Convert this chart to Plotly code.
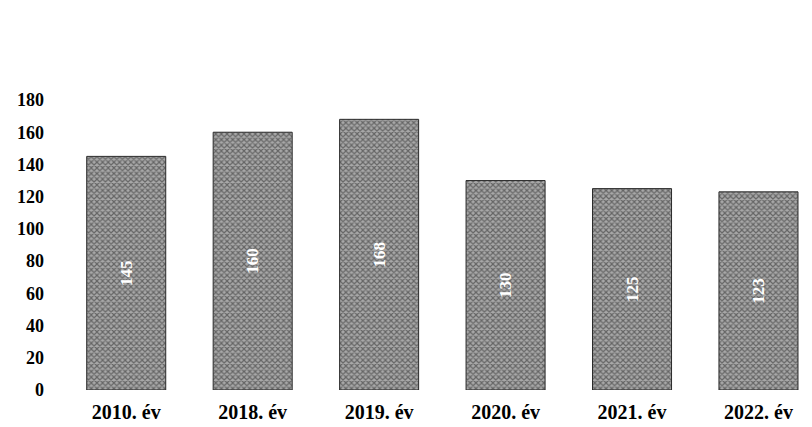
import plotly.graph_objects as go

categories = ["2010. év", "2018. év", "2019. év", "2020. év", "2021. év", "2022. év"]
values = [145, 160, 168, 130, 125, 123]
y_ticks = [0, 20, 40, 60, 80, 100, 120, 140, 160, 180]

fig = go.Figure()
fig.add_trace(go.Bar(
    x=categories,
    y=values,
    text=[str(v) for v in values],
    textposition="inside",
    insidetextanchor="middle",
    textangle=-90,
    textfont=dict(family="Liberation Serif", size=17, color="white", weight="bold"),
    marker=dict(
        color="#8a8a8a",
        line=dict(color="#2a2a2a", width=1),
        pattern=dict(shape="x", fgcolor="#222222", bgcolor="#a8a8a8", size=4, solidity=0.5),
    ),
    hoverinfo="skip",
))

fig.update_layout(
    width=796, height=419,
    margin=dict(l=55, r=0, t=92, b=37),
    paper_bgcolor="white", plot_bgcolor="white",
    bargap=0.375,
    showlegend=False,
    font=dict(family="Liberation Serif", size=18, color="black"),
)
fig.update_xaxes(
    range=[-0.5, 5.36],
    showgrid=False, zeroline=False, showline=False,
    tickfont=dict(family="Liberation Serif", size=20, color="black", weight="bold"),
    ticks="", automargin=False, ticklabelstandoff=8,
)
fig.update_yaxes(
    range=[0, 180], tickvals=y_ticks, showgrid=False, zeroline=False, showline=False,
    tickfont=dict(family="Liberation Serif", size=18, color="black", weight="bold"),
    ticks="", ticklabelstandoff=18, automargin=False,
)
fig.write_html("out.html")
